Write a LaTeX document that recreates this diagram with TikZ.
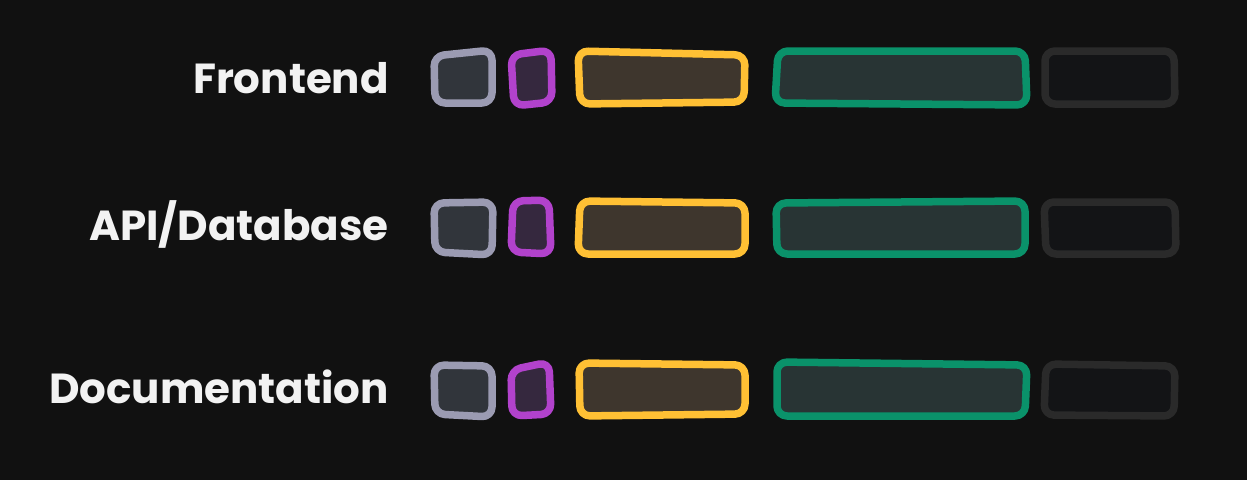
\documentclass[tikz,border=0pt]{standalone}
\usepackage{fontspec}
\setmainfont{Poppins}
\usetikzlibrary{positioning}

\definecolor{canvas}{RGB}{17,17,17}
\definecolor{labelwhite}{RGB}{242,242,242}
\definecolor{slatedraw}{RGB}{155,155,178}
\definecolor{slatefill}{RGB}{49,53,59}
\definecolor{violetdraw}{RGB}{178,66,204}
\definecolor{violetfill}{RGB}{53,40,62}
\definecolor{amberdraw}{RGB}{255,192,52}
\definecolor{amberfill}{RGB}{62,54,45}
\definecolor{jadedraw}{RGB}{10,146,106}
\definecolor{jadefill}{RGB}{40,52,52}
\definecolor{inkdraw}{RGB}{42,42,42}
\definecolor{inkfill}{RGB}{19,20,22}

\begin{document}
\begin{tikzpicture}[
                x=1pt,y=-1pt,
                sketch/.style={line width=7.5pt,rounded corners=10pt,line join=round},
                slatebox/.style={sketch,draw=slatedraw,fill=slatefill},
                violetbox/.style={sketch,draw=violetdraw,fill=violetfill},
                amberbox/.style={sketch,draw=amberdraw,fill=amberfill},
                jadebox/.style={sketch,draw=jadedraw,fill=jadefill},
                inkbox/.style={sketch,draw=inkdraw,fill=inkfill},
                lanelabel/.style={anchor=base east,inner sep=0pt,text=labelwhite,
                    font=\fontsize{42}{50}\selectfont\bfseries}
            ]
                \fill[canvas] (0,0) rectangle (1247,480);
                \useasboundingbox (0,0) rectangle (1247,480);
                % labels
                \node[lanelabel] (frontend) at (389,93)  {Frontend};
                \node[lanelabel] (api)      at (389,240) {API/Database};
                \node[lanelabel] (docs)     at (389,403) {Documentation};
                % frontend row
                \draw[slatebox]  (434,56) -- (492,50) -- (492,103) -- (435,103) -- cycle;
                \draw[violetbox] (511,55) -- (551,50) -- (552,102) -- (514,106) -- cycle;
                \draw[amberbox]  (578,51) -- (745,55) -- (744,102) -- (580,104) -- cycle;
                \draw[jadebox]   (778,51) -- (1025,51) -- (1027,105) -- (775,103) -- cycle;
                \draw[inkbox]    (1045,51) -- (1174,51) -- (1175,104) -- (1045,104) -- cycle;
                % api/database row
                \draw[slatebox]  (434,203) -- (493,202) -- (492,255) -- (435,252) -- cycle;
                \draw[violetbox] (513,201) -- (549,200) -- (551,254) -- (511,252) -- cycle;
                \draw[amberbox]  (580,201) -- (745,203) -- (745,254) -- (578,254) -- cycle;
                \draw[jadebox]   (776,203) -- (1025,201) -- (1025,254) -- (777,254) -- cycle;
                \draw[inkbox]    (1044,202) -- (1175,202) -- (1176,254) -- (1046,254) -- cycle;
                % documentation row
                \draw[slatebox]  (434,365) -- (492,366) -- (492,417) -- (435,414) -- cycle;
                \draw[violetbox] (511,370) -- (549,362) -- (551,414) -- (512,416) -- cycle;
                \draw[amberbox]  (579,363) -- (745,365) -- (745,414) -- (580,416) -- cycle;
                \draw[jadebox]   (777,362) -- (1027,365) -- (1025,416) -- (777,416) -- cycle;
                \draw[inkbox]    (1046,364) -- (1175,366) -- (1174,416) -- (1044,415) -- cycle;
            \end{tikzpicture}
\end{document}
